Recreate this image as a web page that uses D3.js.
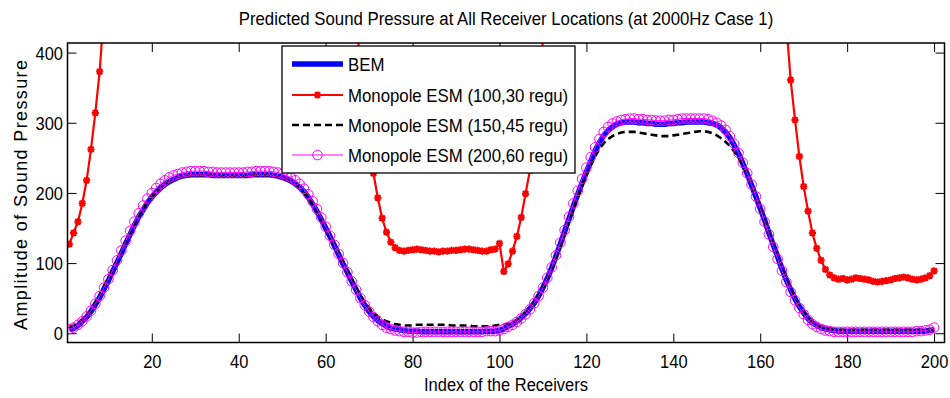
<!DOCTYPE html>
<html>
<head>
<meta charset="utf-8">
<script src="https://cdn.jsdelivr.net/npm/d3@7"></script>
<style>
  html, body { margin: 0; padding: 0; background: #fff; }
  svg { display: block; font-family: "Liberation Sans", Arial, sans-serif; }
</style>
</head>
<body>
<svg id="chart" width="950" height="398"></svg>
<script>
// Receiver indices 1..200
const receivers = d3.range(1, 201);

const xTicks = [20, 40, 60, 80, 100, 120, 140, 160, 180, 200];
const yTicks = [0, 100, 200, 300, 400];

const titleText = "Predicted Sound Pressure at All Receiver Locations (at 2000Hz Case 1)";
const xLabel = "Index of the Receivers";
const yLabel = "Amplitude of Sound Pressure";
const seriesNames = ["BEM", "Monopole ESM (100,30 regu)", "Monopole ESM (150,45 regu)", "Monopole ESM (200,60 regu)"];

// Boundary element reference solution
const bem = [
  5,7,11,17,23,31,41,51,63,75,
  88,101,114,128,141,154,166,176,186,194,
  201,207,212,216,219,222,224,225,226,226,
  226,226,226,225,225,225,225,225,225,225,
  225,225,226,226,226,226,226,225,224,222,
  220,217,213,208,202,194,184,174,162,150,
  138,125,112,99,87,74,62,50,40,31,
  24,18,14,10,7,6,5,4,3,3,
  3,2,2,2,2,2,2,2,2,2,
  2,2,2,2,2,2,3,3,3,4,
  6,10,13,17,22,28,35,43,53,65,
  78,93,110,127,145,163,181,198,214,230,
  245,260,272,282,289,294,298,300,301,301,
  301,300,300,299,299,298,298,298,299,299,
  300,300,301,301,301,301,301,300,299,297,
  293,287,279,268,256,242,227,211,195,178,
  161,143,126,109,92,76,62,49,38,29,
  21,15,11,8,6,5,4,3,3,3,
  3,3,3,3,3,3,3,3,3,3,
  3,3,3,3,3,3,3,3,4,5
];

// Monopole ESM, 100 sources, 30 regularisation
const esm100 = [
  127,143,159,185,218,262,314,373,460,545,
  630,710,780,840,890,930,960,980,995,1005,
  1010,1012,1012,1010,1006,1001,996,990,985,980,
  975,970,966,962,958,955,952,950,948,946,
  944,941,937,932,926,918,908,896,882,866,
  848,828,806,782,756,728,700,675,650,630,
  612,596,578,558,532,495,442,387,334,281,
  228,193,164,144,130,122,118,117,118,119,
  120,119,118,117,117,116,117,117,118,118,
  119,120,120,119,118,117,117,119,120,128,
  88,99,117,138,165,199,232,288,350,418,
  490,570,650,730,800,860,910,950,980,1000,
  1015,1025,1030,1032,1033,1032,1030,1028,1025,1022,
  1020,1018,1016,1015,1014,1013,1012,1010,1008,1005,
  1000,995,988,980,970,958,944,928,910,890,
  868,844,818,790,760,728,694,660,626,594,
  564,538,514,490,465,440,361,304,252,209,
  174,143,121,104,91,83,79,77,78,76,
  77,79,78,77,76,74,73,74,75,76,
  78,79,80,79,77,76,77,79,82,89
];

// Monopole ESM, 150 sources, 45 regularisation
const esm150 = [
  9,11,14,19,25,33,43,54,66,78,
  91,104,117,131,144,156,168,178,187,195,
  202,208,212,216,219,221,223,224,225,225,
  225,225,225,224,224,224,224,224,224,224,
  224,224,225,225,225,225,225,224,223,221,
  219,216,212,207,201,193,184,174,162,150,
  138,125,113,100,88,76,65,54,44,36,
  29,24,20,17,15,13,12,11,11,11,
  12,12,12,12,12,12,12,12,11,11,
  11,11,11,10,10,10,10,10,11,12,
  12,13,15,19,23,29,36,44,54,65,
  78,92,108,125,142,160,177,194,210,225,
  239,252,263,271,277,281,284,286,287,287,
  287,286,285,284,283,282,281,281,281,282,
  283,284,285,286,287,288,288,287,285,282,
  278,273,267,259,250,239,226,211,195,178,
  161,143,126,109,92,76,62,49,38,29,
  22,16,12,9,7,6,6,5,5,5,
  5,5,5,5,5,5,5,5,5,5,
  5,5,5,5,5,5,5,5,5,6
];

// Monopole ESM, 200 sources, 60 regularisation
const esm200 = [
  6,8,12,17,24,32,42,53,65,77,
  90,104,118,132,146,159,171,182,192,200,
  207,213,218,222,225,227,229,230,231,231,
  231,231,230,230,229,229,229,229,229,229,
  229,230,230,231,231,231,231,230,229,227,
  225,222,218,213,206,198,188,177,165,152,
  139,126,113,100,87,74,62,50,40,31,
  23,17,12,8,6,4,3,2,2,1,
  1,2,2,2,2,2,2,2,2,2,
  2,2,2,2,2,2,3,3,3,4,
  6,9,12,16,21,27,34,43,53,65,
  79,94,111,129,147,166,185,203,220,236,
  251,265,277,287,294,299,302,304,305,306,
  306,305,305,304,304,303,303,303,304,304,
  305,306,306,306,306,306,306,305,303,300,
  296,290,281,270,257,243,228,212,195,177,
  159,141,123,106,89,73,59,47,36,27,
  19,13,9,6,4,3,2,2,2,2,
  2,2,2,2,2,2,2,2,2,2,
  2,2,2,2,2,3,3,4,5,8
];

const svg = d3.select("#chart");
const W = 950, H = 398;
const plot = { left: 67.5, right: 944.5, top: 43, bottom: 342.5 };
const TEXT_STRETCH = 1.1;

const x = d3.scaleLinear().domain([0.6, 202.4]).range([plot.left, plot.right]);
const y = d3.scaleLinear().domain([-13.2, 413.7]).range([plot.bottom, plot.top]);

svg.append("rect").attr("width", W).attr("height", H).attr("fill", "#fff");

svg.append("defs").append("clipPath").attr("id", "plotClip")
  .append("rect")
  .attr("x", plot.left).attr("y", plot.top)
  .attr("width", plot.right - plot.left).attr("height", plot.bottom - plot.top);

// helper: text with slight vertical stretch
function addText(parent, str, tx, ty, size, anchor) {
  return parent.append("text")
    .attr("transform", `translate(${tx},${ty}) scale(1,${TEXT_STRETCH})`)
    .attr("font-size", size)
    .attr("text-anchor", anchor || "start")
    .attr("fill", "#000")
    .text(str);
}

// Axes: inward ticks on all four sides
const axisStroke = (g) => {
  g.select(".domain").remove();
  g.selectAll(".tick line").attr("stroke", "#000").attr("stroke-width", 1);
};

const gx = svg.append("g").attr("transform", `translate(0,${plot.bottom})`)
  .call(d3.axisBottom(x).tickValues(xTicks).tickSizeInner(-9).tickSizeOuter(0).tickFormat(d3.format("d")))
  .call(axisStroke);
gx.selectAll(".tick text")
  .attr("y", null).attr("dy", null)
  .attr("transform", `translate(0,25) scale(1,${TEXT_STRETCH})`)
  .attr("font-size", 16.5).attr("fill", "#000")
  .attr("font-family", "Liberation Sans, Arial, sans-serif");

const gy = svg.append("g").attr("transform", `translate(${plot.left},0)`)
  .call(d3.axisLeft(y).tickValues(yTicks).tickSizeInner(-9).tickSizeOuter(0).tickFormat(d3.format("d")))
  .call(axisStroke);
gy.selectAll(".tick text")
  .attr("x", null).attr("dy", null)
  .attr("transform", `translate(-4.5,6.6) scale(1,${TEXT_STRETCH})`)
  .attr("font-size", 16.5).attr("fill", "#000")
  .attr("font-family", "Liberation Sans, Arial, sans-serif");

svg.append("g").attr("transform", `translate(0,${plot.top})`)
  .call(d3.axisTop(x).tickValues(xTicks).tickSizeInner(-9).tickSizeOuter(0).tickFormat(""))
  .call(axisStroke);
svg.append("g").attr("transform", `translate(${plot.right},0)`)
  .call(d3.axisRight(y).tickValues(yTicks).tickSizeInner(-9).tickSizeOuter(0).tickFormat(""))
  .call(axisStroke);

// Series
const lineOf = (vals) => d3.line().x((d, i) => x(receivers[i])).y(d => y(d))(vals);
const plotG = svg.append("g").attr("clip-path", "url(#plotClip)");

plotG.append("path").attr("d", lineOf(bem))
  .attr("fill", "none").attr("stroke", "#0000ff").attr("stroke-width", 5.5)
  .attr("stroke-linejoin", "round");

const starPath = (s) => `M${-s},0L${s},0M0,${-s}L0,${s}M${-s*0.75},${-s*0.75}L${s*0.75},${s*0.75}M${-s*0.75},${s*0.75}L${s*0.75},${-s*0.75}`;

plotG.append("path").attr("d", lineOf(esm100))
  .attr("fill", "none").attr("stroke", "#ff0000").attr("stroke-width", 2.2);
plotG.append("g").selectAll("path").data(esm100).join("path")
  .attr("transform", (d, i) => `translate(${x(receivers[i])},${y(d)})`)
  .attr("d", starPath(3.6))
  .attr("fill", "none").attr("stroke", "#ff0000").attr("stroke-width", 2);

plotG.append("path").attr("d", lineOf(esm150))
  .attr("fill", "none").attr("stroke", "#000").attr("stroke-width", 2.6)
  .attr("stroke-dasharray", "7,4");

plotG.append("path").attr("d", lineOf(esm200))
  .attr("fill", "none").attr("stroke", "#ff00ff").attr("stroke-width", 1);
plotG.append("g").selectAll("circle").data(esm200).join("circle")
  .attr("cx", (d, i) => x(receivers[i])).attr("cy", d => y(d))
  .attr("r", 4.8)
  .attr("fill", "none").attr("stroke", "#ff00ff").attr("stroke-width", 1);

// Frame
svg.append("rect")
  .attr("x", plot.left).attr("y", plot.top)
  .attr("width", plot.right - plot.left).attr("height", plot.bottom - plot.top)
  .attr("fill", "none").attr("stroke", "#000").attr("stroke-width", 1.5);

// Title and axis labels
addText(svg, titleText, (plot.left + plot.right) / 2, 25, 16.8, "middle");
addText(svg, xLabel, (plot.left + plot.right) / 2, 391, 16.5, "middle");
svg.append("text")
  .attr("transform", `translate(27,195) rotate(-90)`)
  .attr("font-size", 18)
  .attr("text-anchor", "middle")
  .attr("textLength", 270)
  .attr("lengthAdjust", "spacing")
  .attr("fill", "#000")
  .text(yLabel);

// Legend
const legend = { x: 282, y: 46, w: 293, h: 127 };
const lg = svg.append("g");
lg.append("rect")
  .attr("x", legend.x).attr("y", legend.y).attr("width", legend.w).attr("height", legend.h)
  .attr("fill", "#fff").attr("stroke", "#000").attr("stroke-width", 1.3);

const rowY = [64, 95, 125, 155];
const sx0 = 292, sx1 = 343, tx = 348;

// BEM sample
lg.append("line").attr("x1", sx0).attr("x2", sx1).attr("y1", rowY[0]).attr("y2", rowY[0])
  .attr("stroke", "#0000ff").attr("stroke-width", 5.5);
// ESM 100 sample
lg.append("line").attr("x1", sx0).attr("x2", sx1).attr("y1", rowY[1]).attr("y2", rowY[1])
  .attr("stroke", "#ff0000").attr("stroke-width", 2.2);
lg.append("path").attr("transform", `translate(${(sx0 + sx1) / 2},${rowY[1]})`)
  .attr("d", starPath(3.6)).attr("fill", "none").attr("stroke", "#ff0000").attr("stroke-width", 2);
// ESM 150 sample
lg.append("line").attr("x1", sx0).attr("x2", sx1).attr("y1", rowY[2]).attr("y2", rowY[2])
  .attr("stroke", "#000").attr("stroke-width", 2.6).attr("stroke-dasharray", "7,4");
// ESM 200 sample
lg.append("line").attr("x1", sx0).attr("x2", sx1).attr("y1", rowY[3]).attr("y2", rowY[3])
  .attr("stroke", "#ff00ff").attr("stroke-width", 1);
lg.append("circle").attr("cx", (sx0 + sx1) / 2).attr("cy", rowY[3]).attr("r", 4.8)
  .attr("fill", "none").attr("stroke", "#ff00ff").attr("stroke-width", 1);

seriesNames.forEach((name, i) => {
  addText(lg, name, tx, rowY[i] + 7, 16.8, "start");
});
</script>
</body>
</html>
